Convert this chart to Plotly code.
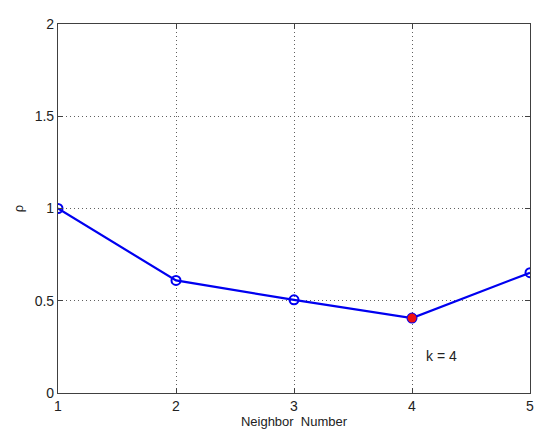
import plotly.graph_objects as go

neighbors = [1, 2, 3, 4, 5]
rho = [1.0, 0.61, 0.505, 0.406, 0.652]
best_k = 4
best_rho = 0.406

fig = go.Figure()
fig.add_trace(go.Scatter(
    x=neighbors, y=rho, mode="lines+markers",
    line=dict(color="#0000f0", width=2.2),
    marker=dict(symbol="circle-open", size=9, color="#0000f0", line=dict(width=2)),
    showlegend=False,
))
fig.add_trace(go.Scatter(
    x=[best_k], y=[best_rho], mode="markers",
    marker=dict(symbol="circle", size=9, color="#ee1111"),
    showlegend=False,
))
fig.add_annotation(x=4.1, y=0.2, text="k = 4", showarrow=False, xanchor="left",
                   font=dict(size=14, color="#222222"))

axis_common = dict(
    showline=True, linecolor="#404040", linewidth=1.2, mirror="allticks",
    ticks="inside", ticklen=5, tickcolor="#404040",
    showgrid=True, gridcolor="#606060", griddash="1px,3px", gridwidth=1,
    zeroline=False, tickfont=dict(size=14, color="#222222"),
)
fig.update_xaxes(range=[1, 5], dtick=1,
                 title=dict(text="Neighbor  Number", font=dict(size=13, color="#222222"), standoff=2),
                 **axis_common)
fig.update_yaxes(range=[0, 2], tickvals=[0, 0.5, 1, 1.5, 2], ticktext=["0", "0.5", "1", "1.5", "2"],
                 title=dict(text="ρ", font=dict(size=13, color="#222222"), standoff=8), **axis_common)

# page body has an 8px margin, so the figure is sized to sit inside it
fig.update_layout(
    width=534, height=428,
    margin=dict(l=50, r=8, t=11, b=43),
    plot_bgcolor="white", paper_bgcolor="white",
    font=dict(family="Liberation Sans, Arial, sans-serif"),
)
fig.write_html("out.html")
